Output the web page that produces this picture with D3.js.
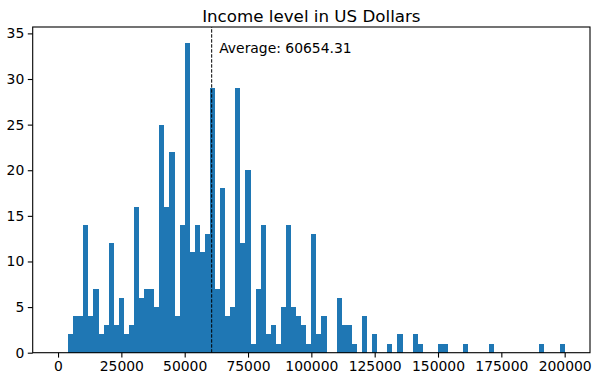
<!DOCTYPE html>
<html>
<head>
<meta charset="utf-8">
<script src="https://cdn.jsdelivr.net/npm/d3@7"></script>
<style>
  body { margin: 0; background: #fff; }
  svg text { font-family: "DejaVu Sans", sans-serif; fill: #000; }
</style>
</head>
<body>
<svg id="chart"></svg>
<script>
// Histogram of incomes, 100 bins of 2000 between 0 and 200000 (only non-empty bins listed)
const binWidth = 2000;
const binStarts = [
  4000, 6000, 8000, 10000, 12000, 14000, 16000, 18000, 20000, 22000,
  24000, 26000, 28000, 30000, 32000, 34000, 36000, 38000, 40000, 42000,
  44000, 46000, 48000, 50000, 52000, 54000, 56000, 58000, 60000, 62000,
  64000, 66000, 68000, 70000, 72000, 74000, 76000, 78000, 80000, 82000,
  84000, 86000, 88000, 90000, 92000, 94000, 96000, 98000, 100000, 102000,
  104000, 110000, 112000, 114000, 116000, 120000, 124000, 130000, 134000, 140000,
  142000, 150000, 152000, 160000, 170000, 190000, 198000
];
const binCounts = [
  2, 4, 4, 14, 4, 7, 2, 3, 12, 3,
  6, 2, 3, 16, 6, 7, 7, 5, 25, 16,
  22, 4, 14, 34, 11, 14, 11, 13, 29, 7,
  18, 4, 5, 29, 12, 20, 1, 7, 14, 2,
  3, 1, 5, 14, 5, 4, 3, 1, 13, 2,
  4, 6, 3, 3, 1, 4, 2, 1, 2, 2,
  1, 1, 1, 1, 1, 1, 1
];
const average = 60654.31;
const xTicks = [0, 25000, 50000, 75000, 100000, 125000, 150000, 175000, 200000];
const yTicks = [0, 5, 10, 15, 20, 25, 30, 35];
const title = "Income level in US Dollars";

const bins = binStarts.map((s, i) => ({ x0: s, x1: s + binWidth, count: binCounts[i] }));

const W = 598, H = 381;
const margin = { top: 27, right: 8, bottom: 28.3, left: 32.7 };

const svg = d3.select("#chart").attr("width", W).attr("height", H);

// matplotlib style 5% padding around the bin range
const x = d3.scaleLinear()
  .domain([-10000, 210000])
  .range([margin.left, W - margin.right]);

const y = d3.scaleLinear()
  .domain([0, d3.max(binCounts) * 1.05])
  .range([H - margin.bottom, margin.top]);

// bars
svg.append("g")
  .selectAll("rect")
  .data(bins)
  .enter()
  .append("rect")
  .attr("x", d => x(d.x0))
  .attr("width", d => x(d.x1) - x(d.x0))
  .attr("y", d => y(d.count))
  .attr("height", d => y(0) - y(d.count))
  .attr("fill", "#1f77b4")
  .attr("shape-rendering", "crispEdges");

// average line
svg.append("line")
  .attr("x1", x(average))
  .attr("x2", x(average))
  .attr("y1", y.range()[0])
  .attr("y2", y.range()[1])
  .attr("stroke", "#000")
  .attr("stroke-width", 1)
  .attr("stroke-dasharray", "3.5,1.5");

svg.append("text")
  .attr("x", x(average) + 7.5)
  .attr("y", 53)
  .attr("font-size", "13.9px")
  .text(`Average: ${average.toFixed(2)}`);

// axes
const xAxis = svg.append("g")
  .attr("transform", `translate(0,${H - margin.bottom})`)
  .call(d3.axisBottom(x).tickValues(xTicks).tickFormat(d3.format("d")).tickSize(4.9).tickPadding(3.5));

const yAxis = svg.append("g")
  .attr("transform", `translate(${margin.left},0)`)
  .call(d3.axisLeft(y).tickValues(yTicks).tickFormat(d3.format("d")).tickSize(4.9).tickPadding(3.5));

[xAxis, yAxis].forEach(g => {
  g.select(".domain").remove();
  g.selectAll("line").attr("stroke", "#000").attr("stroke-width", 1.1);
  g.selectAll("text").attr("font-size", "13.9px").attr("font-family", "DejaVu Sans");
});

// frame
svg.append("rect")
  .attr("x", margin.left)
  .attr("y", margin.top)
  .attr("width", W - margin.right - margin.left)
  .attr("height", H - margin.bottom - margin.top)
  .attr("fill", "none")
  .attr("stroke", "#000")
  .attr("stroke-width", 1.1);

// title
svg.append("text")
  .attr("x", (margin.left + W - margin.right) / 2)
  .attr("y", 22.3)
  .attr("text-anchor", "middle")
  .attr("font-size", "16.7px")
  .text(title);
</script>
</body>
</html>
